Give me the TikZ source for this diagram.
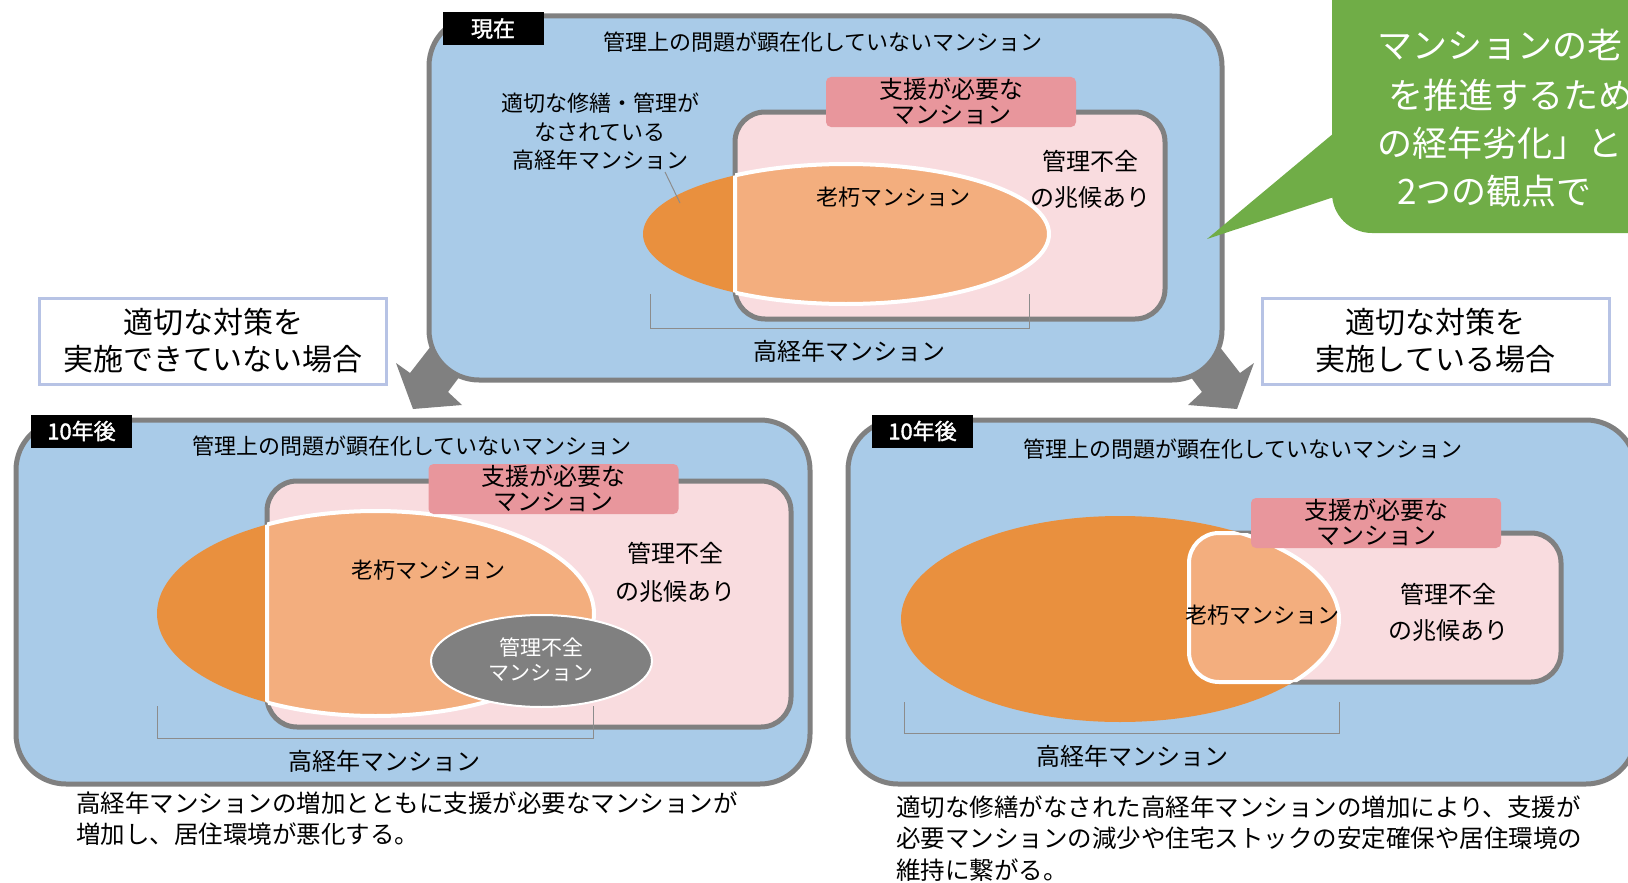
\documentclass[tikz,border=0pt]{standalone}
\usepackage{fontspec}
\setmainfont{Noto Sans CJK JP}
\newfontfamily\tagfont{Noto Sans CJK JP}[FakeBold=1.6]
\definecolor{pblue}{HTML}{A9CBE8}
\definecolor{pgray}{HTML}{808080}
\definecolor{ppink}{HTML}{F9DCDF}
\definecolor{prose}{HTML}{E8969C}
\definecolor{dorange}{HTML}{E9903E}
\definecolor{lorange}{HTML}{F3AE7E}
\definecolor{cgreen}{HTML}{70AD47}
\definecolor{lav}{HTML}{B7C3E5}
\definecolor{brk}{HTML}{8C8C8C}
\tikzset{
  panel/.style={draw=pgray, line width=5pt, fill=pblue, rounded corners=50pt},
  pinkbox/.style={draw=pgray, line width=5pt, fill=ppink, rounded corners=30pt},
  rosebox/.style={fill=prose, rounded corners=5pt, minimum width=250pt, minimum height=50pt, inner sep=0pt, align=center, font=\fontsize{24pt}{25pt}\selectfont},
  tagbox/.style={fill=black, text=white, minimum width=101pt, minimum height=33pt, inner sep=0pt, font=\tagfont\fontsize{22pt}{24pt}\selectfont},
  ttl/.style={inner sep=0pt, font=\fontsize{22pt}{24pt}\selectfont},
  lbl/.style={inner sep=0pt, align=center, font=\fontsize{24pt}{36pt}\selectfont},
  captxt/.style={inner sep=0pt, align=left, anchor=west, font=\fontsize{24.5pt}{31.5pt}\selectfont},
  tbox/.style={draw=lav, line width=3pt, fill=white, minimum width=347pt, minimum height=86pt, inner sep=0pt, align=center, font=\fontsize{30pt}{37pt}\selectfont},
  bracket/.style={draw=brk, line width=1pt},
  bigarrow/.style={fill=pgray},
  wline/.style={draw=white, line width=4pt},
  gtext/.style={inner sep=0pt, anchor=west, text=white, font=\fontsize{35pt}{40pt}\selectfont}
}
\begin{document}
\begin{tikzpicture}[x=1pt,y=-1pt]
\useasboundingbox (0,0) rectangle (1628,883);

% ---- big arrows (under the top panel)
\path[bigarrow] (413,409) -- (462,405) -- (448,392) -- (478,352) -- (445,328) -- (410,373) -- (396,363) -- cycle;
\path[bigarrow] (1237,409) -- (1188,405) -- (1202,392) -- (1172,352) -- (1205,328) -- (1240,373) -- (1254,363) -- cycle;

% ================= TOP PANEL =================
\draw[panel] (429,16) rectangle (1222,380);
\draw[pinkbox] (735,112) rectangle (1165,319);
\fill[dorange] (846,234) ellipse [x radius=203pt, y radius=70pt];
\begin{scope}
  \clip[rounded corners=30pt] (735,112) rectangle (1165,319);
  \fill[lorange] (846,234) ellipse [x radius=203pt, y radius=70pt];
  \draw[wline] (846,234) ellipse [x radius=203pt, y radius=70pt];
\end{scope}
\begin{scope}
  \clip (846,234) ellipse [x radius=203pt, y radius=70pt];
  \draw[wline, rounded corners=30pt] (735,112) rectangle (1165,319);
\end{scope}
\node[rosebox] (sup0) at (951,102) {支援が必要な\\マンション};
\node[tagbox] (tag0) at (493,28.5) {現在};
\node[ttl] (ttl0) at (823,42) {管理上の問題が顕在化していないマンション};
\node[ttl, align=center, font=\fontsize{22pt}{28.5pt}\selectfont] (good0) at (600,132) {適切な修繕・管理が\\なされている\\高経年マンション};
\coordinate (lead0a) at (665,172);
\coordinate (lead0b) at (680,203);
\draw[brk, line width=1pt] (lead0a) -- (lead0b);
\node[ttl] (old0) at (893,197) {老朽マンション};
\node[lbl] (sign0) at (1090,179) {管理不全\\の兆候あり};
\coordinate (b0a) at (650,294);
\coordinate (b0b) at (1029,294);
\draw[bracket] (b0a) -- ++(0,34) -| (b0b);
\node[lbl] (hi0) at (849,351) {高経年マンション};

% ---- green callout
\fill[cgreen, rounded corners=40pt] (1332,-60) rectangle (1700,233);
\fill[cgreen] (1334,133) -- (1207,239) -- (1334,197) -- cycle;
\node[gtext] (g1) at (1377,45) {マンションの老};
\node[gtext] (g2) at (1388,95) {を推進するため};
\node[gtext] (g3) at (1377,143) {の経年劣化」と};
\node[gtext] (g4) at (1397,191) {2つの観点で};

% ---- text boxes
\node[tbox] (left) at (213,341) {適切な対策を\\実施できていない場合};
\node[tbox] (right) at (1435.5,341) {適切な対策を\\実施している場合};

% ================= BOTTOM LEFT =================
\draw[panel] (16,420) rectangle (810,784);
\draw[pinkbox] (267,481) rectangle (791,727);
\fill[dorange] (375.5,613.5) ellipse [x radius=218.5pt, y radius=102.5pt];
\begin{scope}
  \clip[rounded corners=30pt] (267,481) rectangle (791,727);
  \fill[lorange] (375.5,613.5) ellipse [x radius=218.5pt, y radius=102.5pt];
  \draw[wline] (375.5,613.5) ellipse [x radius=218.5pt, y radius=102.5pt];
\end{scope}
\begin{scope}
  \clip (375.5,613.5) ellipse [x radius=218.5pt, y radius=102.5pt];
  \draw[wline, rounded corners=30pt] (267,481) rectangle (791,727);
\end{scope}
\draw[fill=pgray, draw=white, line width=2pt] (541.5,661) ellipse [x radius=110.5pt, y radius=46pt];
\node[rosebox] (sup1) at (553.5,489) {支援が必要な\\マンション};
\node[tagbox] (tag1) at (81.5,431) {10年後};
\node[ttl] (ttl1) at (412,446) {管理上の問題が顕在化していないマンション};
\node[ttl] (old1) at (428,570) {老朽マンション};
\node[lbl, font=\fontsize{24pt}{38pt}\selectfont] (sign1) at (675,572) {管理不全\\の兆候あり};
\node[inner sep=0pt, align=center, text=white, font=\fontsize{21pt}{25pt}\selectfont] (bad1) at (541,660) {管理不全\\マンション};
\coordinate (b1a) at (157,706);
\coordinate (b1b) at (593,706);
\draw[bracket] (b1a) -- ++(0,32) -| (b1b);
\node[lbl] (hi1) at (384,761) {高経年マンション};
\node[captxt] (cap1) at (76,818.5) {高経年マンションの増加とともに支援が必要なマンションが\\増加し、居住環境が悪化する。};

% ================= BOTTOM RIGHT =================
\draw[panel] (848,420) rectangle (1636,784);
\draw[pinkbox] (1189,533) rectangle (1561,682);
\fill[dorange] (1120,619) ellipse [x radius=219pt, y radius=103pt];
\begin{scope}
  \clip[rounded corners=30pt] (1189,533) rectangle (1561,682);
  \fill[lorange] (1120,619) ellipse [x radius=219pt, y radius=103pt];
  \draw[wline] (1120,619) ellipse [x radius=219pt, y radius=103pt];
\end{scope}
\begin{scope}
  \clip (1120,619) ellipse [x radius=219pt, y radius=103pt];
  \draw[wline, rounded corners=30pt] (1189,533) rectangle (1561,682);
\end{scope}
\node[rosebox] (sup2) at (1376,523) {支援が必要な\\マンション};
\node[tagbox] (tag2) at (922.5,431) {10年後};
\node[ttl] (ttl2) at (1243,449) {管理上の問題が顕在化していないマンション};
\node[ttl] (old2) at (1262,615) {老朽マンション};
\node[lbl] (sign2) at (1448,612) {管理不全\\の兆候あり};
\coordinate (b2a) at (904,702);
\coordinate (b2b) at (1339,702);
\draw[bracket] (b2a) -- ++(0,31) -| (b2b);
\node[lbl] (hi2) at (1132,756) {高経年マンション};
\node[captxt] (cap2) at (896,838.5) {適切な修繕がなされた高経年マンションの増加により、支援が\\必要マンションの減少や住宅ストックの安定確保や居住環境の\\維持に繋がる。};
\end{tikzpicture}
\end{document}
